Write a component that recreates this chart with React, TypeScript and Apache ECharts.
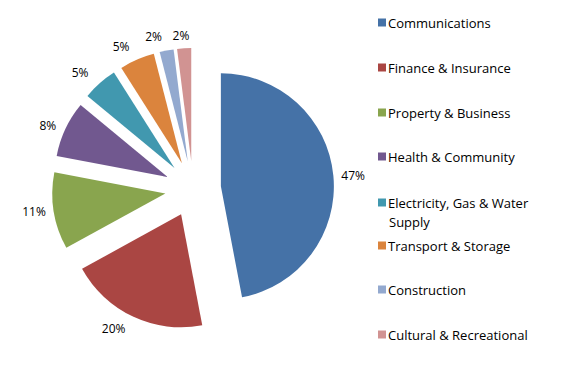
import React, { useEffect, useRef } from "react";
import * as echarts from "echarts";

const categories = [
  "Communications",
  "Finance & Insurance",
  "Property & Business",
  "Health & Community",
  "Electricity, Gas & Water Supply",
  "Transport & Storage",
  "Construction",
  "Cultural & Recreational",
];
const shares = [47, 20, 11, 8, 5, 5, 2, 2];
const colors = ["#4572A7", "#AA4643", "#89A54E", "#71588F", "#4198AF", "#DB843D", "#93A9CF", "#D19392"];
const legendTops = [16, 61, 106, 150, 196, 239, 283, 328];
// label placement tweaks (style only)
const labelLen = [6, 13, 6, 8, 14, 14, 14, 13];
const labelLen2 = [0, 0, 0, 0, 0, 0, 0, -8];

const FONT = "'Open Sans', 'Noto Sans', sans-serif";

export default function App() {
  const ref = useRef<HTMLDivElement>(null);
  useEffect(() => {
    if (!ref.current) return;
    const chart = echarts.init(ref.current, undefined, { renderer: "svg" });
    const data = categories.map((name, i) => ({
      name,
      value: shares[i],
      selected: true,
      itemStyle: { color: colors[i] },
      labelLine: { show: false, length: labelLen[i], length2: labelLen2[i] },
    }));
    chart.setOption({
      animation: false,
      color: colors,
      legend: categories.map((name, i) => ({
        data: [name],
        orient: "vertical",
        left: 378,
        top: legendTops[i],
        padding: 0,
        icon: "rect",
        itemWidth: 8,
        itemHeight: 8,
        itemGap: 4,
        selectedMode: false,
        formatter: (n: string) => (n.startsWith("Electricity") ? "Electricity, Gas & Water" : n),
        textStyle: { fontFamily: FONT, fontSize: 13, color: "#000", padding: [0, 0, 0, -3] },
      })),
      graphic: [
        {
          type: "text",
          left: 389,
          top: 215,
          style: { text: "Supply", font: `13px ${FONT}`, lineHeight: 13, fill: "#000" },
        },
      ],
      series: [
        {
          type: "pie",
          center: [193, 189],
          radius: [0, 113],
          startAngle: 90,
          clockwise: true,
          selectedMode: "multiple",
          selectedOffset: 28,
          avoidLabelOverlap: false,
          labelLayout: { hideOverlap: false },
          emphasis: { disabled: true },
          itemStyle: { borderWidth: 0 },
          label: {
            show: true,
            position: "outside",
            formatter: "{c}%",
            fontFamily: FONT,
            fontSize: 12,
            color: "#000",
            distanceToLabelLine: 2,
          },
          labelLine: { show: false, length: 6, length2: 0 },
          data,
        },
      ],
    });
    return () => chart.dispose();
  }, []);
  return <div ref={ref} style={{ position: "absolute", left: 0, top: 0, width: 564, height: 377 }} />;
}
